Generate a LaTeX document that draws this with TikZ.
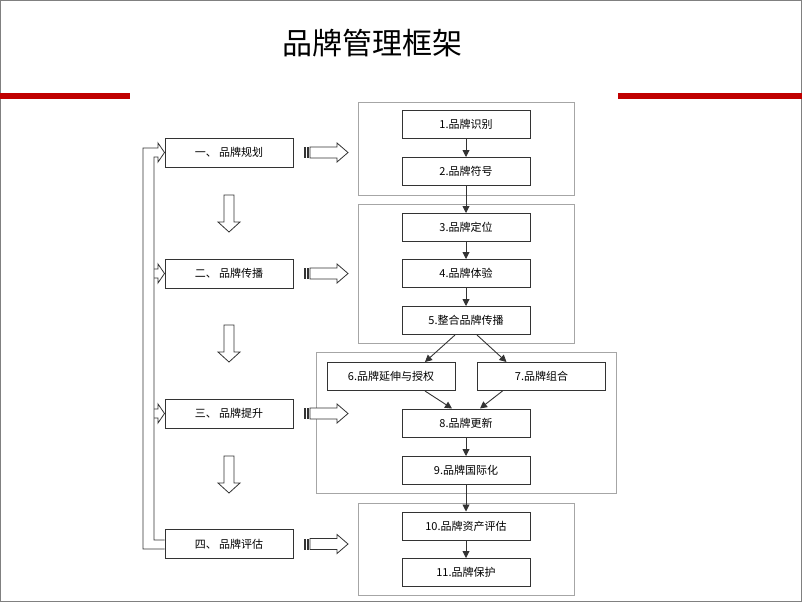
\documentclass[tikz,border=0pt]{standalone}
\usepackage{fontspec}
\newfontfamily\cjk{Noto Sans CJK SC}
\newfontfamily\cjklight{Noto Sans CJK SC Light}
\usetikzlibrary{arrows.meta,calc}
\definecolor{barred}{HTML}{C00000}
\definecolor{grpgray}{HTML}{A6A6A6}
\definecolor{boxline}{HTML}{333333}
\begin{document}
\begin{tikzpicture}[x=1pt,y=-1pt,
  stage/.style={draw=boxline,line width=1pt,minimum width=128pt,minimum height=29pt,inner sep=0pt,font=\cjk\fontsize{11}{13}\selectfont},
  item/.style={draw=boxline,line width=1pt,minimum width=128pt,minimum height=28pt,inner sep=0pt,font=\cjk\fontsize{11}{13}\selectfont},
  grp/.style={draw=grpgray,line width=1pt},
  flow/.style={draw=boxline,line width=0.9pt,-{Triangle[length=7pt,width=7pt]}},
  blockarrow/.style={draw=boxline,line width=0.8pt,fill=white},
]
\useasboundingbox (0,0) rectangle (802,602);
\draw[gray,line width=1pt] (0.5,0.5) rectangle (801.5,601.5);
% title and red bars
\node[font=\cjk\fontsize{30}{34}\selectfont] (title) at (372,43) {品牌管理框架};
\fill[barred] (0,93) rectangle (130,99);
\fill[barred] (618,93) rectangle (802,99);
% groups
\draw[grp] (358,102) rectangle (574,195);
\draw[grp] (358,204) rectangle (574,343);
\draw[grp] (316,352) rectangle (616,493);
\draw[grp] (358,503) rectangle (574,595);
% left stages
\node[stage] (l1) at (229,152.5) {一、 品牌规划};
\node[stage] (l2) at (229,273.5) {二、 品牌传播};
\node[stage] (l3) at (229,413.5) {三、 品牌提升};
\node[stage] (l4) at (229,544) {四、 品牌评估};
% right items
\node[item] (b1) at (466,124.5) {1.品牌识别};
\node[item] (b2) at (466,171.5) {2.品牌符号};
\node[item] (b3) at (466,227.5) {3.品牌定位};
\node[item] (b4) at (466,273.5) {4.品牌体验};
\node[item] (b5) at (466,320.5) {5.整合品牌传播};
\node[item] (b6) at (391,376.5) {6.品牌延伸与授权};
\node[item] (b7) at (541.5,376.5) {7.品牌组合};
\node[item] (b8) at (466,423) {8.品牌更新};
\node[item] (b9) at (466,470.5) {9.品牌国际化};
\node[item] (b10) at (466,526) {10.品牌资产评估};
\node[item] (b11) at (466,572.5) {11.品牌保护};
% flow connectors
\draw[flow] (b1) -- (b2);
\draw[flow] (b2) -- (b3);
\draw[flow] (b3) -- (b4);
\draw[flow] (b4) -- (b5);
\draw[flow] ($(b5.south)+(-11,0)$) -- ($(b6.north)+(34,0)$);
\draw[flow] ($(b5.south)+(11,0)$) -- ($(b7.north)+(-35,0)$);
\draw[flow] ($(b6.south)+(34,0)$) -- ($(b8.north)+(-14,0)$);
\draw[flow] ($(b7.south)+(-39,0)$) -- ($(b8.north)+(14,0)$);
\draw[flow] (b8) -- (b9);
\draw[flow] (b9) -- (b10);
\draw[flow] (b10) -- (b11);
% down block arrows between stages
\foreach \t in {195,325,456}{
  \draw[blockarrow] (224,\t) -- (234,\t) -- (234,{\t+27}) -- (240,{\t+27}) -- (229,{\t+37}) -- (218,{\t+27}) -- (224,{\t+27}) -- cycle;
}
% striped right block arrows
\foreach \c in {152.5,273.5,413.5,544}{
  \fill[boxline] (304,{\c-5.5}) rectangle (305.5,{\c+5.5});
  \fill[boxline] (306.5,{\c-5.5}) rectangle (309,{\c+5.5});
  \draw[blockarrow] (310,{\c-5.5}) -- (337,{\c-5.5}) -- (337,{\c-9.5}) -- (348,\c) -- (337,{\c+9.5}) -- (337,{\c+5.5}) -- (310,{\c+5.5}) -- cycle;
}
% feedback loop from stage 4 back to stage 1
\draw[blockarrow,fill=none] ($(l4.west)+(0,5)$) -| (143,148) -- (158,148) -- (158,143) -- (l1.west) -- (158,162) -- (158,157) -- (154,157) |- ($(l4.west)+(0,-4)$);
\draw[blockarrow,fill=none] (154,{273.5-4.5}) -- (158,{273.5-4.5}) -- (158,{273.5-9.5}) -- (l2.west) -- (158,{273.5+9.5}) -- (158,{273.5+4.5}) -- (154,{273.5+4.5});
\draw[blockarrow,fill=none] (154,{413.5-4.5}) -- (158,{413.5-4.5}) -- (158,{413.5-9.5}) -- (l3.west) -- (158,{413.5+9.5}) -- (158,{413.5+4.5}) -- (154,{413.5+4.5});
\end{tikzpicture}
\end{document}
